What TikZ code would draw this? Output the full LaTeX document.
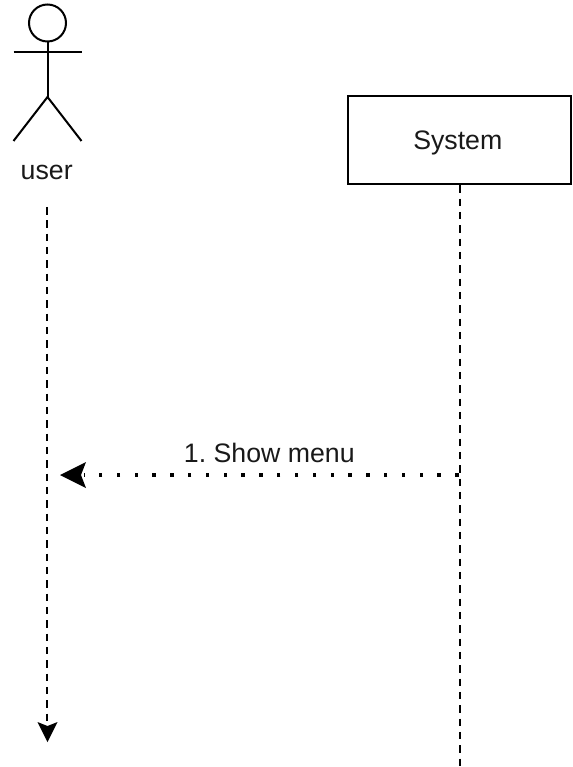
\documentclass[tikz,border=0pt]{standalone}
\usepackage{fontspec}
\setmainfont{Liberation Sans}
\frenchspacing
\tikzset{
  ink/.style={draw=black,line width=2pt},
  label/.style={font=\fontsize{26.7}{30}\selectfont,text=black!90,inner sep=0pt,anchor=base},
  life/.style={draw=black,line width=2pt,dash pattern=on 7.5pt off 5.83pt},
  msg/.style={draw=black,line width=3.4pt,dash pattern=on 3.4pt off 14.42pt,dash phase=17pt}
}
\begin{document}
\begin{tikzpicture}[x=1pt,y=-1pt]
\useasboundingbox (0,0) rectangle (572,767);
\fill[white] (0,0) rectangle (572,767);
% actor
\coordinate (hip) at (47.5,97);
\coordinate (armL) at (13.5,52);
\coordinate (armR) at (81.5,52);
\coordinate (legL) at (13.5,141);
\coordinate (legR) at (81.5,141);
\node[ink,circle,minimum size=37pt,inner sep=0pt] (head) at (47.5,23) {};
\draw[ink] (head.south) -- (hip);
\draw[ink] (armL) -- (armR);
\draw[ink] (legL) -- (hip) -- (legR);
\node[label] (user) at (46.7,180) {user};
% system
\node[ink,rectangle,minimum width=223pt,minimum height=88pt,inner sep=0pt] (sys) at (459.5,140.3) {};
\node[label] (systext) at (457.8,150) {System};
\coordinate (sysend) at (459.5,767);
\draw[life] (sys.south) -- (sysend);
% user lifeline
\coordinate (ustart) at (47.3,207);
\coordinate (uend) at (47.3,724);
\draw[life] (ustart) -- (uend);
\fill (47.5,742) -- (37.5,722) -- (47.5,726) -- (57.5,722) -- cycle;
% message
\coordinate (mstart) at (459.5,475);
\coordinate (mend) at (84,475);
\draw[msg] (mstart) -- (mend);
\fill (60,475) -- (86,462) -- (81,475) -- (86,488) -- cycle;
\node[label] (mtext) at (269.3,462.7) {1. Show menu};
\end{tikzpicture}
\end{document}
